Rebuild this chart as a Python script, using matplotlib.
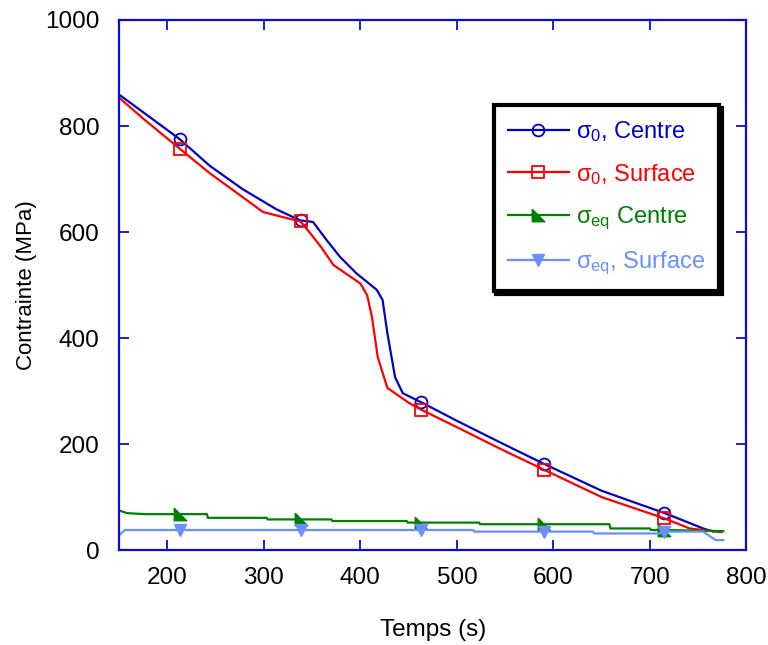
import numpy as np
import matplotlib
matplotlib.use("Agg")
import matplotlib.pyplot as plt

plt.rcParams["font.family"] = ["Liberation Sans", "DejaVu Sans"]
plt.rcParams["mathtext.fontset"] = "custom"
plt.rcParams["mathtext.rm"] = "Liberation Sans"
plt.rcParams["mathtext.it"] = "Liberation Sans"

# --- data ------------------------------------------------------------------
# sigma_0, centre
t_s0_centre = [151, 175, 213, 244, 278, 313, 334, 338, 351, 365, 379, 396, 417,
               423, 428, 436, 444, 463, 500, 544, 590, 650, 715, 740, 755, 766]
s0_centre = [858, 826, 775, 725, 681, 643, 625, 622, 619, 585, 553, 522, 491,
             472, 409, 326, 296, 279, 244, 204, 163, 112, 70, 52, 41, 35]

# sigma_0, surface
t_s0_surf = [151, 175, 213, 244, 278, 299, 320, 338, 348, 360, 372, 400, 407,
             412, 418, 428, 451, 463, 500, 544, 590, 650, 715, 741, 774]
s0_surf = [852, 814, 757, 711, 666, 638, 628, 620, 598, 570, 538, 503, 481,
           440, 364, 306, 277, 265, 232, 192, 152, 100, 60, 41, 34]

# sigma_eq, centre
t_seq_centre = [150, 158, 176, 213, 241, 242, 303, 304, 338, 370, 371, 448, 449,
                463, 523, 524, 590, 658, 659, 700, 701, 715, 776]
seq_centre = [75, 70, 68, 68, 68, 61, 61, 58, 58, 58, 55, 55, 52,
              52, 52, 49, 49, 49, 41, 41, 38, 38, 36]

# sigma_eq, surface
t_seq_surf = [150, 156, 213, 338, 463, 517, 518, 590, 641, 642, 711, 712, 715,
              755, 768, 776]
seq_surf = [28, 38, 38, 38, 38, 38, 35, 35, 35, 31.5, 31.5, 35, 35,
            35, 19, 19]

marker_t = [213, 338, 463, 590, 715]
# ---------------------------------------------------------------------------

AX_BLUE = "#0a0adf"
C_CENTRE = "#0000cc"
C_SURF = "#ff0000"
C_EQ_CENTRE = "#008000"
C_EQ_SURF = "#6b8fff"

tri_sw = [(-1, 1), (-1, -1), (1, -1), (-1, 1)]


def marks(t):
    return [i for i, v in enumerate(t) if v in marker_t]


fig = plt.figure(figsize=(7.68, 6.45), dpi=100)
ax = fig.add_axes([0.155, 0.147, 0.817, 0.822])

ax.plot(t_s0_centre, s0_centre, color=C_CENTRE, lw=1.6, marker="o", ms=8.5,
        mfc="none", mec=C_CENTRE, mew=1.3, markevery=marks(t_s0_centre),
        label=r"$\sigma_0$, Centre")
ax.plot(t_s0_surf, s0_surf, color=C_SURF, lw=1.6, marker="s", ms=8.5,
        mfc="none", mec=C_SURF, mew=1.3, markevery=marks(t_s0_surf),
        label=r"$\sigma_0$, Surface")
ax.plot(t_seq_centre, seq_centre, color=C_EQ_CENTRE, lw=1.6, marker=tri_sw,
        ms=9, mfc=C_EQ_CENTRE, mec=C_EQ_CENTRE, markevery=marks(t_seq_centre),
        label=r"$\sigma_{eq}$ Centre")
ax.plot(t_seq_surf, seq_surf, color=C_EQ_SURF, lw=1.6, marker="v", ms=9,
        mfc=C_EQ_SURF, mec=C_EQ_SURF, markevery=marks(t_seq_surf),
        label=r"$\sigma_{eq}$, Surface")

ax.set_xlim(150, 800)
ax.set_ylim(0, 1000)
ax.set_xticks([200, 300, 400, 500, 600, 700, 800])
ax.set_yticks([0, 200, 400, 600, 800, 1000])
ax.tick_params(direction="in", length=7, width=1.3, color=AX_BLUE,
               top=True, right=True, labelsize=17.5)
ax.tick_params(axis="x", pad=12)
ax.tick_params(axis="y", pad=14)
for sp in ax.spines.values():
    sp.set_color(AX_BLUE)
    sp.set_linewidth(1.6)

ax.set_xlabel("Temps (s)", fontsize=17.5, labelpad=22)
ax.set_ylabel("Contrainte (MPa)", fontsize=16, labelpad=6)

leg = ax.legend(loc="upper left", bbox_to_anchor=(0.578, 0.862), fontsize=17,
                numpoints=1, handlelength=2.6, handletextpad=0.3,
                labelspacing=0.75, borderpad=0.6, fancybox=False, framealpha=1,
                shadow={"color": "black", "alpha": 1})
leg.get_frame().set_edgecolor("black")
leg.get_frame().set_linewidth(3)
for txt, ln in zip(leg.get_texts(), leg.get_lines()):
    txt.set_color(ln.get_color())
for h in leg.legend_handles:
    h.set_markevery([1])

fig.savefig("out.png", dpi=100)
